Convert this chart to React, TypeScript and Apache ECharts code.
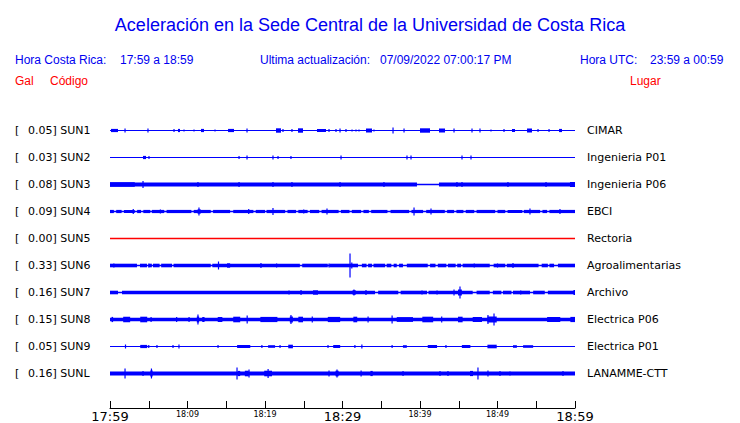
import React, { useEffect, useRef } from 'react';
import * as echarts from 'echarts';

// ---------- data ----------
const TITLE = 'Aceleración en la Sede Central de la Universidad de Costa Rica';
const LOCAL_RANGE = '17:59 a 18:59';
const UTC_RANGE = '23:59 a 00:59';
const UPDATED = '07/09/2022 07:00:17 PM';

const STATIONS = ['SUN1', 'SUN2', 'SUN3', 'SUN4', 'SUN5', 'SUN6', 'SUN7', 'SUN8', 'SUN9', 'SUNL'];
const PEAK_GAL = ['0.05', '0.03', '0.08', '0.09', '0.00', '0.33', '0.16', '0.15', '0.05', '0.16'];
const PLACES = ['CIMAR', 'Ingenieria P01', 'Ingenieria P06', 'EBCI', 'Rectoria', 'Agroalimentarias', 'Archivo', 'Electrica P06', 'Electrica P01', 'LANAMME-CTT'];

// minutes after 17:59, one label every 10 minutes
const TICK_LABELS = ['17:59', '18:09', '18:19', '18:29', '18:39', '18:49', '18:59'];
const MAJOR_LABELS = ['17:59', '18:29', '18:59'];
const WINDOW_MIN = 60;

// trace half-amplitudes (1 unit = 1/27 of a row)
const LINE_AMP = [0.6, 0.6, 0.7, 0.7, 0.75, 0.7, 0.7, 0.7, 0.6, 0.7];
const BAND_AMP = [0, 0, 2, 1.6, 0, 1.8, 1.8, 1.8, 0, 2];

// stretches where the band drops to the centre line [from, to] minutes
const SUN3_GAPS = [[39.61, 42.45]];
const SUN4_GAPS = [[0.5, 0.8], [1.5, 1.8], [3.2, 3.5], [4.0, 4.3], [5.2, 5.4], [7.0, 7.3], [10.5, 10.8], [13.0, 13.3], [15.5, 15.9], [18.5, 18.8], [20.0, 20.2], [22.6, 22.9], [24.0, 24.3], [25.5, 25.8], [27.0, 27.3], [29.5, 29.8], [30.9, 31.2], [32.4, 32.7], [33.4, 33.7], [35.8, 36.2], [38.6, 38.9], [40.4, 40.8], [43.2, 43.5], [44.4, 44.7], [45.6, 45.9], [47.0, 47.3], [49.7, 50.0], [51.0, 51.3], [53.2, 53.4], [55.5, 55.8], [56.4, 56.7]];
const SUN6_GAPS = [[3.48, 3.87], [4.77, 5.03], [5.4, 5.55], [6.4, 6.6], [8.0, 8.2], [13.0, 13.2], [24.5, 24.8], [28.1, 28.3], [32.0, 32.5], [33.1, 33.3], [33.8, 34.0], [35.5, 35.7], [36.3, 36.6], [37.0, 37.3], [37.8, 38.3], [41.0, 41.3], [42.0, 42.3], [43.4, 43.6], [44.6, 44.8], [45.3, 45.5], [49.0, 49.5], [51.0, 51.2], [55.3, 55.7], [56.5, 56.7], [57.3, 57.8]];
const SUN7_GAPS = [[1.03, 1.55], [34.2, 34.6], [37.2, 37.5], [40.9, 41.1], [46.8, 47.3], [49.0, 49.4], [50.5, 50.7], [51.8, 52.0], [54.2, 54.6], [56.1, 56.5]];
const NO_GAPS: number[][] = [];

// bursts [from, to, half-amplitude]
const SUN1_BURSTS = [[0.13, 1.03, 1.6], [1.94, 1.94, 2], [4.9, 4.9, 2], [8.26, 8.26, 1.5], [8.77, 9.03, 1.6], [9.55, 9.55, 1], [10.84, 10.84, 1], [11.74, 12.13, 1.6], [13.55, 13.55, 1], [15.23, 16.0, 1.6], [17.68, 17.68, 2], [21.42, 22.06, 2.2], [22.32, 22.32, 1.5], [23.48, 23.48, 1.5], [24.26, 24.9, 2.2], [26.71, 27.87, 1.5], [28.26, 28.26, 1.5], [29.16, 29.16, 1.5], [29.68, 29.68, 2], [30.45, 30.45, 1.5], [31.23, 31.23, 1], [31.74, 31.74, 1], [32.13, 32.13, 1], [33.03, 33.81, 2], [34.06, 34.06, 1], [36.52, 36.52, 3], [37.94, 37.94, 2], [40.0, 41.29, 2.2], [42.45, 43.23, 2], [44.39, 44.39, 2], [46.71, 46.71, 2], [47.74, 47.74, 2], [49.16, 49.16, 1], [50.84, 50.84, 1.5], [51.87, 52.26, 1.6], [53.81, 54.45, 2], [55.23, 55.23, 1.5], [56.65, 56.65, 1.5], [57.94, 58.32, 1.6]];
const SUN2_BURSTS = [[4.26, 4.65, 1.6], [5.03, 5.03, 1.5], [16.65, 16.65, 1.5], [17.68, 17.68, 2], [21.03, 21.03, 2], [21.68, 21.68, 1.5], [23.35, 23.35, 1.5], [29.81, 29.81, 2], [38.32, 38.32, 2], [38.84, 38.84, 2], [45.42, 45.42, 2], [46.58, 46.58, 2]];
const SUN3_BURSTS = [[0, 3.2, 2.3], [4.26, 4.26, 3.5], [11.35, 11.35, 2.5], [16.65, 16.65, 2.5], [21.03, 21.03, 2.5], [23.48, 23.48, 2.5], [29.68, 29.68, 2.5], [35.35, 35.35, 2.5], [44.77, 44.77, 2.5], [45.42, 45.42, 2.5], [51.35, 51.35, 2.5], [56.26, 56.26, 2.5], [59.35, 60, 2.5]];
const SUN4_BURSTS = [[3.0, 3.0, 2.5], [6.5, 6.5, 2], [11.48, 11.48, 4], [11.3, 11.7, 2.2], [17.9, 17.9, 2.5], [21.03, 21.03, 3.5], [25.0, 25.0, 2], [28.0, 28.0, 3], [39.23, 39.23, 4], [41.42, 41.42, 3], [54.19, 54.19, 3], [58.06, 58.06, 2.5]];
const SUN5_BURSTS: number[][] = [];
const SUN6_BURSTS = [[0.5, 0.5, 2], [5.0, 5.0, 2], [14.0, 14.0, 4], [15.1, 15.5, 2.2], [19.48, 19.48, 2.5], [21.5, 21.5, 2], [28.26, 28.26, 2], [30.97, 30.97, 12], [31.2, 31.2, 3], [47.0, 47.0, 2], [50.0, 50.0, 2], [52.0, 52.0, 2.5]];
const SUN7_BURSTS = [[23.1, 23.1, 2], [24.65, 24.65, 2.5], [26.19, 26.84, 2.2], [31.48, 31.48, 3], [31.3, 31.7, 2.3], [33.03, 33.03, 2.5], [40.26, 40.26, 2], [42.2, 42.2, 2], [44.39, 44.39, 3], [44.9, 45.4, 3], [45.16, 45.16, 6], [53.0, 53.0, 2], [59.8, 60, 2.5]];
const SUN8_BURSTS = [[0.2, 0.4, 2.6], [1.7, 2.6, 2.8], [3.9, 4.8, 2.8], [5.3, 5.3, 2.5], [8.6, 8.6, 2.5], [10.2, 10.2, 2.5], [11.35, 11.35, 5], [11.2, 11.5, 3], [11.9, 12.2, 2.5], [13.9, 14.5, 2.5], [15.9, 16.8, 2.8], [17.7, 17.7, 4], [19.4, 21.6, 2.6], [23.35, 23.35, 4.5], [23.2, 23.6, 3], [24.3, 24.9, 2.8], [26.1, 26.1, 3], [28.1, 29.7, 2.6], [31.4, 31.9, 2.8], [33.3, 33.3, 3], [36.4, 36.4, 4], [37.0, 39.1, 2.4], [40.3, 41.7, 2.8], [42.8, 42.8, 3], [44.9, 45.5, 2.8], [46.8, 48.0, 2.5], [48.77, 48.77, 4.5], [48.7, 49.9, 3], [49.55, 49.55, 6], [56.4, 58.1, 2.5], [59.4, 60, 2.6]];
const SUN9_BURSTS = [[2.0, 2.0, 2], [3.9, 4.8, 1.6], [5.0, 5.0, 1.5], [6.06, 6.06, 1.5], [8.13, 8.13, 1.5], [8.9, 8.9, 2], [13.94, 13.94, 1.5], [16.4, 18.1, 1.5], [19.6, 19.6, 1.5], [20.4, 21.3, 1.3], [21.94, 21.94, 1.5], [23.0, 23.6, 1.8], [28.13, 28.13, 1.5], [28.8, 29.7, 1.5], [31.6, 31.6, 1.5], [32.5, 32.5, 2], [36.4, 36.4, 1.5], [37.8, 38.3, 1.3], [41.0, 42.2, 1.5], [43.35, 43.35, 1.5], [45.4, 46.5, 1.5], [48.7, 49.9, 1.8], [52.0, 52.5, 1.3], [53.3, 54.6, 1.3]];
const SUNL_BURSTS = [[1.94, 1.94, 5], [4.26, 4.26, 2.5], [5.35, 5.35, 5], [5.2, 5.5, 3], [16.39, 16.39, 6], [16.5, 16.8, 2.6], [17.4, 17.9, 2.8], [17.94, 17.94, 4], [20.4, 20.4, 4.5], [19.9, 20.9, 2.8], [28.26, 28.26, 3], [29.29, 29.29, 4], [29.1, 29.5, 2.8], [32.4, 32.4, 3], [33.6, 33.9, 2.6], [37.81, 37.81, 2.5], [42.58, 42.58, 2.5], [43.61, 43.61, 2.5], [46.45, 46.84, 2.6], [47.48, 47.48, 6], [48.77, 48.77, 3], [50.32, 50.32, 2.5], [51.61, 51.61, 2], [58.45, 58.45, 2.5]];

const GAPS = [NO_GAPS, NO_GAPS, SUN3_GAPS, SUN4_GAPS, NO_GAPS, SUN6_GAPS, SUN7_GAPS, NO_GAPS, NO_GAPS, NO_GAPS];
const BURSTS = [SUN1_BURSTS, SUN2_BURSTS, SUN3_BURSTS, SUN4_BURSTS, SUN5_BURSTS, SUN6_BURSTS, SUN7_BURSTS, SUN8_BURSTS, SUN9_BURSTS, SUNL_BURSTS];

// ---------- styles ----------
const BLUE = '#0000f0';
const TRACE_BLUE = '#0000ff';
const RED = '#ff0000';
const ROW_UNITS = 27;

function buildItems() {
  const items: number[][] = [];
  STATIONS.forEach((_, row) => {
    items.push([0, row, WINDOW_MIN, LINE_AMP[row]]);
    if (BAND_AMP[row] > 0) {
      let start = 0;
      for (const [g0, g1] of GAPS[row]) {
        items.push([start, row, g0, BAND_AMP[row]]);
        start = g1;
      }
      items.push([start, row, WINDOW_MIN, BAND_AMP[row]]);
    }
    for (const [t0, t1, a] of BURSTS[row]) items.push([t0, row, t1, a]);
  });
  return items;
}

export default function App() {
  const ref = useRef<HTMLDivElement>(null);
  useEffect(() => {
    const chart = echarts.init(ref.current!, null, { renderer: 'svg' });
    const headerFont = { fontFamily: 'Liberation Sans', fontSize: 12 };
    const txt = (x: number, y: number, text: string, fill: string) => ({
      type: 'text', x, y,
      style: { text, fill, ...headerFont, verticalAlign: 'middle' },
    });
    chart.setOption({
      animation: false,
      backgroundColor: '#ffffff',
      title: {
        text: TITLE, left: 'center', top: 11,
        textStyle: { fontFamily: 'Liberation Sans', fontSize: 18, fontWeight: 'normal', color: BLUE },
      },
      graphic: [
        txt(15, 60, 'Hora Costa Rica:', BLUE),
        txt(120, 60, LOCAL_RANGE, BLUE),
        txt(260, 60, 'Ultima actualización:', BLUE),
        txt(380, 60, UPDATED, BLUE),
        txt(580, 60, 'Hora UTC:', BLUE),
        txt(650, 60, UTC_RANGE, BLUE),
        txt(15, 81, 'Gal', RED),
        txt(50, 81, 'Código', RED),
        txt(630, 81, 'Lugar', RED),
      ],
      grid: { left: 110, right: 165, top: 117, height: 270 },
      xAxis: {
        type: 'value', min: 0, max: WINDOW_MIN, interval: 5, offset: 21,
        axisLine: { show: true, lineStyle: { color: '#000', width: 1 } },
        axisTick: { show: true, inside: true, length: 7, lineStyle: { color: '#000', width: 1 } },
        splitLine: { show: false },
        axisLabel: {
          margin: 2,
          formatter: (v: number) => {
            if (v % 10 !== 0) return '';
            const lbl = TICK_LABELS[v / 10];
            return MAJOR_LABELS.includes(lbl) ? `{maj|${lbl}}` : `{min|${lbl}}`;
          },
          rich: {
            maj: { fontFamily: 'DejaVu Sans', fontSize: 13, color: '#000', padding: [0, 0, 0, 0] },
            min: { fontFamily: 'DejaVu Sans', fontSize: 8, color: '#000', padding: [0, 0, 0, 0] },
          },
        },
      },
      yAxis: [
        {
          type: 'category', data: STATIONS, inverse: true, position: 'left',
          axisLine: { show: false }, axisTick: { show: false }, splitLine: { show: false },
          axisLabel: {
            align: 'left', margin: 95,
            formatter: (_: string, i: number) => `{b|[}{v|${PEAK_GAL[i]}] ${STATIONS[i]}}`,
            rich: {
              b: { width: 13, fontFamily: 'DejaVu Sans', fontSize: 11, color: '#000' },
              v: { fontFamily: 'DejaVu Sans', fontSize: 11, color: '#000' },
            },
          },
        },
        {
          type: 'category', data: PLACES, inverse: true, position: 'right',
          axisLine: { show: false }, axisTick: { show: false }, splitLine: { show: false },
          axisLabel: { align: 'left', margin: 12, fontFamily: 'DejaVu Sans', fontSize: 11, color: '#000' },
        },
      ],
      series: [
        {
          type: 'custom',
          xAxisIndex: 0, yAxisIndex: 0,
          encode: { x: [0, 2], y: 1 },
          data: buildItems(),
          renderItem: (_: any, api: any) => {
            const row = api.value(1);
            const p0 = api.coord([api.value(0), row]);
            const p1 = api.coord([api.value(2), row]);
            const band = api.size([0, 1])[1];
            const h = (band * api.value(3)) / ROW_UNITS;
            const raw = p1[0] - p0[0];
            const w = Math.max(raw, 1.2);
            return {
              type: 'rect',
              shape: { x: p0[0] - (raw < 1.2 ? 0.6 : 0), y: p0[1] - h, width: w, height: 2 * h },
              style: { fill: row === 4 ? RED : TRACE_BLUE },
            };
          },
        },
      ],
    });
    return () => chart.dispose();
  }, []);
  return <div ref={ref} style={{ position: 'fixed', left: 0, top: 0, width: 740, height: 423 }} />;
}
